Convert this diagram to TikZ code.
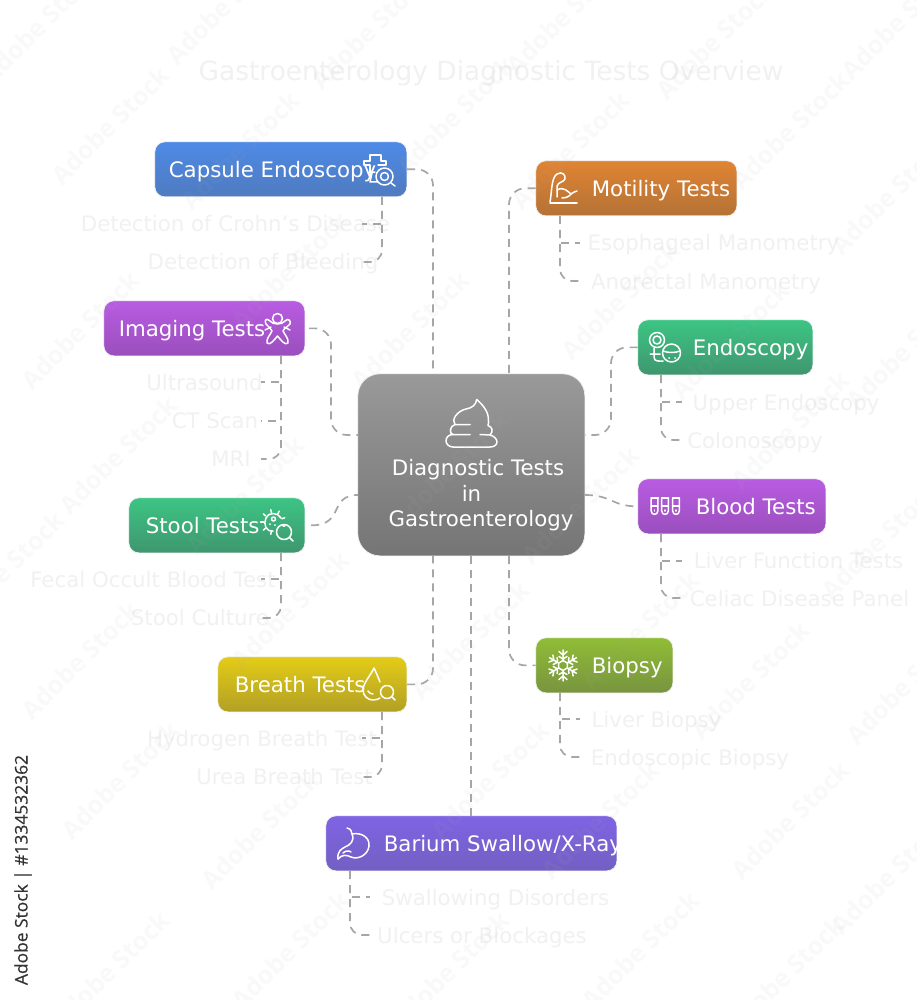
\documentclass[tikz,border=0pt]{standalone}
\usepackage{fontspec}
\setmainfont{DejaVu Sans}
\newfontfamily\wmfont{Open Sans}
\newfontfamily\idfont[FakeBold=0.4]{Open Sans}
\usetikzlibrary{calc}
\definecolor{bluA}{HTML}{4E8AE6}\definecolor{bluB}{HTML}{4F7BC0}
\definecolor{oraA}{HTML}{E08433}\definecolor{oraB}{HTML}{B47236}
\definecolor{grnA}{HTML}{3CC584}\definecolor{grnB}{HTML}{3F966E}
\definecolor{purA}{HTML}{B85CE2}\definecolor{purB}{HTML}{9A4FBD}
\definecolor{limA}{HTML}{90BD36}\definecolor{limB}{HTML}{78943F}
\definecolor{yelA}{HTML}{E3CC17}\definecolor{yelB}{HTML}{B2A024}
\definecolor{vioA}{HTML}{7F63E4}\definecolor{vioB}{HTML}{7360C2}
\definecolor{cenA}{HTML}{999999}\definecolor{cenB}{HTML}{757575}
\definecolor{fainttext}{HTML}{F1F1F1}
\definecolor{connline}{HTML}{A6A6A6}
\definecolor{markgrey}{HTML}{B0B0B0}
\tikzset{
 conn/.style={draw=connline,line width=1.7pt,dash pattern=on 8pt off 6pt},
 rconn/.style={conn,rounded corners=16pt},
 mainbox/.style={rounded corners=10pt,draw=black!6,line width=.7pt,inner sep=0pt,text=white,font=\fontsize{21.3}{25}\selectfont},
 leaftext/.style={inner sep=0pt,text=fainttext,text height=15pt,text depth=5pt,yshift=-3pt,font=\fontsize{21.3}{25}\selectfont},
 centretext/.style={inner sep=0pt,anchor=base,text=white,font=\fontsize{21.3}{25}\selectfont},
 icon/.style={draw=white,line width=1.5pt,line cap=round,line join=round},
 wmark/.style={inner sep=0pt,rotate=45,text=markgrey,opacity=.07,font=\wmfont\bfseries\fontsize{25}{30}\selectfont},
}
% #1 name, #2 x1, #3 y1, #4 x2, #5 y2, #6 col top, #7 col bottom, #8 text start x, #9 text
\newcommand\topicbox[9]{%
 \node[mainbox,top color=#6,bottom color=#7,minimum width=#4pt-#2pt,minimum height=#5pt-#3pt,anchor=north west] (#1) at (#2-.5,#3-.5)
 {\makebox[\dimexpr#4pt-#2pt\relax][l]{\hspace*{\dimexpr#8pt-#2pt\relax}\rule[-4pt]{0pt}{24pt}#9}};}
% #1 parent, #2 trunk x, #3 trunk top y, #4 end x, #5 y1, #6 y2
\newcommand\twoleaf[6]{%
 \coordinate (#1T) at (#2,#3);
 \coordinate (#1Ea) at (#4,#5);
 \coordinate (#1Eb) at (#4,#6);
 \draw[conn] (#1T) |- (#1Ea);
 \draw[conn,rounded corners=12pt] (#1T) |- (#1Eb);}
\newcommand\wmarks{%
 \foreach \px/\py in {40/25,225/5,370/30,565/15,715/40,900/20,110/125,240/150,455/115,570/150,790/130,890/195,
 80/330,290/270,410/330,620/300,730/340,905/350,118/455,245/495,450/470,580/505,790/430,880/540,5/570,
 80/660,290/610,470/640,640/630,750/680,905/685,120/780,260/830,490/780,600/820,790/820,890/875,
 110/970,290/950,450/970,640/950,785/975}
 {\node[wmark] at (\px,\py) {Adobe Stock};}}
\begin{document}
\begin{tikzpicture}[x=1pt,y=-1pt]
\useasboundingbox (0,0) rectangle (917,1000);
\fill[white] (0,0) rectangle (917,1000);

\node[inner sep=0pt,text=fainttext,text height=18pt,text depth=6pt,font=\fontsize{26.45}{30}\selectfont] (title) at (491,75) {Gastroenterology Diagnostic Tests Overview};

% connector anchors on the centre box
\coordinate (cTopL) at (433,374);
\coordinate (cTopR) at (509,374);
\coordinate (cBotL) at (433,556);
\coordinate (cBotM) at (471,556);
\coordinate (cBotR) at (509,556);
\coordinate (cLeftU) at (358,435);
\coordinate (cLeftL) at (358,495);
\coordinate (cRightU) at (585,435);
\coordinate (cRightL) at (585,495);
\coordinate (imgMid) at (331,380);
\coordinate (endMid) at (611,390);

% leaf labels
\node[leaftext] (capA) at (235.5,224) {Detection of Crohn’s Disease};
\node[leaftext] (capB) at (263,261.5) {Detection of Bleeding};
\node[leaftext] (imgA) at (204.5,382.5) {Ultrasound};
\node[leaftext] (imgB) at (215,420.5) {CT Scan};
\node[leaftext] (imgC) at (231,458.5) {MRI};
\node[leaftext] (stoA) at (153,579.5) {Fecal Occult Blood Test};
\node[leaftext] (stoB) at (200,617.5) {Stool Culture};
\node[leaftext] (breA) at (262,738.5) {Hydrogen Breath Test};
\node[leaftext] (breB) at (284.5,776.5) {Urea Breath Test};
\node[leaftext] (motA) at (713.5,243) {Esophageal Manometry};
\node[leaftext] (motB) at (706,281) {Anorectal Manometry};
\node[leaftext] (endA) at (786,402) {Upper Endoscopy};
\node[leaftext] (endB) at (755,440) {Colonoscopy};
\node[leaftext] (bloA) at (798.5,560.5) {Liver Function Tests};
\node[leaftext] (bloB) at (799.5,598.5) {Celiac Disease Panel};
\node[leaftext] (bioA) at (656.5,719.5) {Liver Biopsy};
\node[leaftext] (bioB) at (690,757.5) {Endoscopic Biopsy};
\node[leaftext] (barA) at (495.5,897.5) {Swallowing Disorders};
\node[leaftext] (barB) at (482,935.5) {Ulcers or Blockages};

% boxes
\node[rounded corners=22pt,draw=black!6,line width=.7pt,top color=cenA,bottom color=cenB,minimum width=227pt,minimum height=182pt,anchor=north west,inner sep=0pt] (centre) at (357.5,373.5) {};
\topicbox{capsule}{155}{142}{407}{197}{bluA}{bluB}{169}{Capsule Endoscopy}
\topicbox{motility}{536}{161}{737}{216}{oraA}{oraB}{592}{Motility Tests}
\topicbox{endoscopy}{638}{320}{813}{375}{grnA}{grnB}{693}{Endoscopy}
\topicbox{imaging}{104}{301}{305}{356}{purA}{purB}{119}{Imaging Tests}
\topicbox{blood}{638}{479}{826}{534}{purA}{purB}{696}{Blood Tests}
\topicbox{stool}{129}{498}{305}{553}{grnA}{grnB}{146}{Stool Tests}
\topicbox{biopsy}{536}{638}{673}{693}{limA}{limB}{592}{Biopsy}
\topicbox{breath}{218}{657}{407}{712}{yelA}{yelB}{235}{Breath Tests}
\topicbox{barium}{326}{816}{617}{871}{vioA}{vioB}{384}{Barium Swallow/X-Ray}
\node[centretext] (centreLa) at (478,475) {Diagnostic Tests};
\node[centretext] (centreLb) at (471.5,501) {in};
\node[centretext] (centreLc) at (481,526) {Gastroenterology};

% connectors centre -> topics
\draw[rconn] (capsule.east) -| (cTopL);
\draw[rconn] (motility.west) -| (cTopR);
\draw[rconn] ([xshift=4pt]imaging.east) -| (imgMid) |- (cLeftU);
\draw[rconn] (endoscopy.west) -| (endMid) |- (cRightU);
\draw[rconn] (breath.east) -| (cBotL);
\draw[rconn] (cBotR) |- (biopsy.west);
\draw[conn] (cBotM) -- (cBotM |- barium.north);
\draw[conn] ([xshift=6pt]stool.east) .. controls +(34,0) and +(-30,0) .. (cLeftL);
\draw[conn] (cRightL) .. controls +(27,0) and +(-26,0) .. (blood.west);

% connectors topics -> leaves
\twoleaf{capsule}{382}{197}{362}{224}{262}
\twoleaf{motility}{560}{216}{580}{243}{281}
\twoleaf{endoscopy}{661}{375}{682}{402}{440}
\twoleaf{blood}{661}{534}{682}{561}{598}
\twoleaf{biopsy}{560}{693}{580}{719}{757}
\twoleaf{stool}{281}{553}{261}{579}{618}
\twoleaf{breath}{382}{712}{362}{738}{777}
\twoleaf{barium}{350}{871}{370}{897}{935}
\coordinate (imagingT) at (281,356);
\coordinate (imagingEa) at (261,382);
\coordinate (imagingEb) at (261,421);
\coordinate (imagingEc) at (261,459);
\draw[conn] (imagingT) |- (imagingEa);
\draw[conn] (imagingT) |- (imagingEb);
\draw[conn,rounded corners=12pt] (imagingT) |- (imagingEc);

% icons
% capsule: cross + magnifier
\draw[icon] (370,173) -- (370,165) -- (364,165) -- (364,161) -- (370,161) -- (370,155) -- (381,155) -- (381,161) -- (386,161) -- (386,165) -- (378,165);
\draw[icon] (368,173) -- (375,172) (372,173) -- (370,182) -- (378,182);
\draw[icon] (384.5,176.5) circle[radius=8.5pt];
\draw[icon] (384.5,176.5) circle[radius=4pt] (391,183) -- (395,186);
% motility: flexed arm
\draw[icon] (550,203) -- (577,203);
\draw[icon] (550,202) .. controls (552,192) and (551,178) .. (557,174) .. controls (562,171) and (566,175) .. (565,179) .. controls (564,182) and (558,182) .. (557,186) .. controls (557,190) and (557,192) .. (557,197) ;
\draw[icon] (557,190) .. controls (564,186) and (568,192) .. (571,194) .. controls (573,193) and (575,191) .. (577,191);
\draw[icon] (562,198) .. controls (566,198) and (570,196) .. (571,194);
% endoscopy: scope + stomach circle
\draw[icon] (657,340) circle[radius=7.5pt] (657,340) circle[radius=4pt];
\draw[icon] (654,348) -- (654,357) .. controls (654,362) and (659,361) .. (663,361) (650,354) -- (660,354);
\draw[icon] (671.5,353) circle[radius=9pt] (663,351) .. controls (668,353) and (675,353) .. (680,351);
\fill[white] (669,358) circle[radius=1pt] (675,358) circle[radius=1pt];
% imaging: figure
\draw[icon] (277.5,318.5) circle[radius=5pt];
\draw[icon] (270,321) .. controls (266,317) and (264,321) .. (266,324) .. controls (268,327) and (271,328) .. (272,331) .. controls (270,335) and (266,339) .. (267,343) .. controls (270,346) and (274,340) .. (277.5,336) .. controls (281,340) and (285,346) .. (288,343) .. controls (289,339) and (285,335) .. (283,331) .. controls (284,328) and (288,327) .. (290,324) .. controls (291,320) and (288,318) .. (285,321) .. controls (282,325) and (273,325) .. (270,321);
\draw[icon] (265,330) -- (271,327) (290,330) -- (284,327);
% blood: three test tubes
\foreach \tx in {654.5,665,676}{
 \draw[icon] (\tx-3.3,499) -- (\tx-3.3,511) .. controls (\tx-3.3,515.5) and (\tx+3.3,515.5) .. (\tx+3.3,511) -- (\tx+3.3,499);
 \draw[icon] (\tx-3.3,506) -- (\tx+3.3,506) (\tx,510) -- (\tx,511);
}
\draw[icon] (651,498) -- (658.5,498) (661.5,498) -- (668.5,498) (672.5,498) -- (679.5,498);
% biopsy: snowflake
\foreach \ang in {0,60,...,300}{
 \begin{scope}[shift={(563,665.5)},rotate=\ang]
 \draw[icon] (0,-5) -- (0,-15.5) (-4,-14) -- (0,-10.5) -- (4,-14) (-4,-9) -- (0,-6.5) -- (4,-9);
 \draw[icon] (0,-5) -- (4.3,-2.5);
 \end{scope}}
% stool: microbe + magnifier
\draw[icon] (281,518) .. controls (278,512) and (268,512) .. (266,518) .. controls (263,524) and (266,532) .. (273,531);
\foreach \ang in {0,40,...,280}{
 \draw[icon] ($(273,522)+(\ang+100:9.5)$) -- ($(273,522)+(\ang+100:12.5)$);}
\draw[icon] (273.5,519) circle[radius=2pt];
\fill[white] (270,524) circle[radius=1pt] (275,525) circle[radius=1pt];
\draw[icon] (284,532) circle[radius=7.5pt] (289.5,537.5) -- (293,541);
% breath: droplet + magnifier
\draw[icon] (380,682) .. controls (378,677) and (376,672) .. (374,668) .. controls (371,675) and (363,683) .. (363,690) .. controls (363,696) and (368,700) .. (373,700) .. controls (376,700) and (379,699) .. (380,698);
\draw[icon] (368,691) .. controls (369,693) and (371,694) .. (373,694);
\draw[icon] (387,692) circle[radius=6.5pt] (392,697) -- (395,700);
% barium: stomach
\draw[icon] (347,828) .. controls (352,829) and (351,832) .. (352,834) .. controls (362,832) and (370,838) .. (369,846) .. controls (368,855) and (358,860) .. (351,857) .. controls (347,855) and (342,854) .. (338,859);
\draw[icon] (352,834) .. controls (355,841) and (350,845) .. (345,847) .. controls (341,849) and (337,852) .. (338,859);
\draw[icon] (343,853) .. controls (345,851) and (349,850) .. (351,852);
% centre: icon
\draw[icon] (476.7,399.5) .. controls (482,404) and (488,411) .. (488.3,418) .. controls (488.4,422) and (489,423) .. (488,425.5)
 .. controls (492,427) and (494,431) .. (490,435) .. controls (494,436) and (497,439) .. (497,442) .. controls (497,445) and (494,447) .. (490,447)
 -- (453,447) .. controls (449,447) and (446,444) .. (446,441) .. controls (446,437) and (449,434.5) .. (453,434.5)
 .. controls (449,434) and (449.5,426) .. (455,424.5) .. controls (451,420) and (457,411) .. (466,409) .. controls (472,408) and (476,405) .. (476.7,399.5);
\draw[icon] (453,434.5) -- (470,434.5) (455,424.5) -- (470,424.5) (480,434.5) -- (490,435);

% pale repeated marks over everything
\wmarks

% id strip
\node[inner sep=0pt,rotate=90,text=black!80,font=\idfont\fontsize{17.4}{20}\selectfont] (stockid) at (23,870) {Adobe Stock | \#1334532362};
\end{tikzpicture}
\end{document}
